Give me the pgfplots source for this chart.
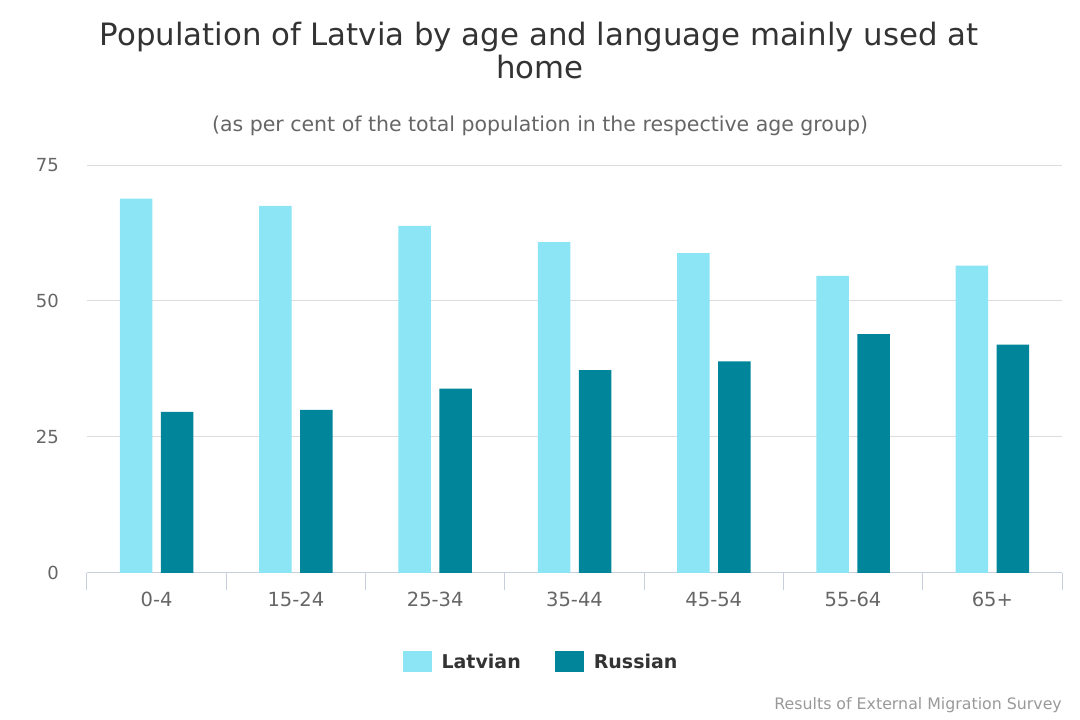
\documentclass[border=0pt]{standalone}
\usepackage{pgfplots}
\pgfplotsset{compat=1.18}
\usepackage{fontspec}
\setmainfont{DejaVu Sans}
\definecolor{lat}{RGB}{139,229,245}
\definecolor{rus}{RGB}{0,133,154}
\definecolor{gridc}{RGB}{221,221,221}
\definecolor{axl}{RGB}{200,207,220}
\definecolor{tx}{RGB}{51,51,51}
\definecolor{txsix}{RGB}{102,102,102}
\definecolor{txnine}{RGB}{153,153,153}

\begin{document}
\begin{tikzpicture}[x=1pt,y=1pt]
\path[use as bounding box] (0,0) rectangle (1080,720);
\node[anchor=base, text=tx, inner sep=0pt, font=\fontsize{30.8}{36}\selectfont] at (539,674) {Population of Latvia by age and language mainly used at};
\node[anchor=base, text=tx, inner sep=0pt, font=\fontsize{30.8}{36}\selectfont] at (540,641) {home};
\node[anchor=base, text=txsix, inner sep=0pt, font=\fontsize{20.5}{24}\selectfont] at (540,588) {(as per cent of the total population in the respective age group)};
\node[anchor=base east, text=txnine, inner sep=0pt, font=\fontsize{15.8}{18}\selectfont] at (1062,10) {Results of External Migration Survey};
\begin{axis}[
  at={(87pt,147pt)}, anchor=south west,
  width=975pt, height=408pt, scale only axis,
  ymin=0, ymax=75, xmin=-0.5, xmax=6.5,
  ytick={0,25,50,75},
  xtick={0,...,6},
  xticklabels={0-4,15-24,25-34,35-44,45-54,55-64,65+},
  minor xtick={-0.5,0.5,...,6.5},
  axis x line*=bottom, axis y line*=left,
  y axis line style={draw=none},
  x axis line style={draw=axl, line width=1pt, -},
  tick align=outside,
  major tick length=0pt,
  minor tick length=17pt,
  minor x tick style={draw=axl, line width=1pt},
  ytick style={draw=none},
  ymajorgrids,
  major grid style={draw=gridc, line width=1pt},
  /pgf/number format/assume math mode=true,
  yticklabel style={font=\fontsize{18}{22}\selectfont, text=txsix, anchor=east, inner sep=0pt, xshift=-28pt},
  xticklabel style={font=\fontsize{19.5}{22}\selectfont, text=txsix, anchor=base, inner sep=0pt, yshift=-34pt},
  ybar=8.5pt, bar width=32.5pt,
  legend style={at={(0.4646,-0.218)}, anchor=center, draw=none, fill=none,
    legend columns=2, font=\fontsize{19}{23}\selectfont\bfseries, text=tx,
    nodes={inner sep=0pt},
    /tikz/every odd column/.append style={column sep=10pt},
    /tikz/every even column/.append style={column sep=34pt}},
  legend image code/.code={\fill[#1] (0pt,-10.5pt) rectangle (29pt,10.5pt);},
]
\addplot[fill=lat, draw=none] coordinates {(0,68.8) (1,67.5) (2,63.8) (3,60.8) (4,58.8) (5,54.6) (6,56.5)};
\addplot[fill=rus, draw=none] coordinates {(0,29.6) (1,30.0) (2,33.9) (3,37.3) (4,38.9) (5,43.9) (6,42.0)};
\legend{Latvian, Russian}
\end{axis}
\end{tikzpicture}
\end{document}
